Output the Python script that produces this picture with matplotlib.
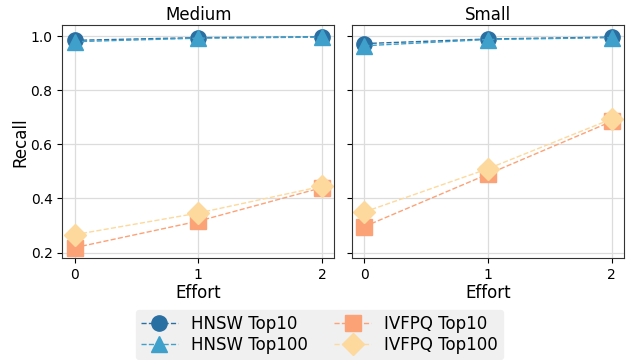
import matplotlib
matplotlib.use("Agg")
import matplotlib.pyplot as plt

efforts = [0, 1, 2]
panels = ["Medium", "Small"]
series_names = ["HNSW Top10", "HNSW Top100", "IVFPQ Top10", "IVFPQ Top100"]

medium_hnsw_top10 = [0.985, 0.995, 0.998]
medium_hnsw_top100 = [0.980, 0.993, 0.997]
medium_ivfpq_top10 = [0.218, 0.316, 0.440]
medium_ivfpq_top100 = [0.266, 0.346, 0.445]

small_hnsw_top10 = [0.973, 0.990, 0.997]
small_hnsw_top100 = [0.965, 0.988, 0.995]
small_ivfpq_top10 = [0.296, 0.490, 0.685]
small_ivfpq_top100 = [0.350, 0.510, 0.694]

data = {
    "Medium": [medium_hnsw_top10, medium_hnsw_top100, medium_ivfpq_top10, medium_ivfpq_top100],
    "Small": [small_hnsw_top10, small_hnsw_top100, small_ivfpq_top10, small_ivfpq_top100],
}

colors = ["#2a6fa1", "#3ea0cb", "#fca277", "#fdd99d"]
markers = ["o", "^", "s", "D"]
sizes = [11, 11, 11, 11]

fig, axes = plt.subplots(1, 2, figsize=(6.29, 3.6), dpi=100, sharey=True)
fig.subplots_adjust(left=0.099, right=0.992, top=0.93, bottom=0.282, wspace=0.065)

for ax, name in zip(axes, panels):
    for vals, lab, c, m, s in zip(data[name], series_names, colors, markers, sizes):
        ax.plot(efforts, vals, linestyle="--", linewidth=1, color=c, marker=m,
                markersize=s, label=lab)
    ax.set_title(name, fontsize=12, pad=4)
    ax.set_xlabel("Effort", fontsize=12, labelpad=1)
    ax.set_xticks(efforts)
    ax.set_xlim(-0.1, 2.1)
    ax.set_ylim(0.178, 1.041)
    ax.set_yticks([0.2, 0.4, 0.6, 0.8, 1.0])
    ax.grid(True, color="#dcdcdc", linewidth=0.9)
    ax.tick_params(labelsize=10)
    for sp in ax.spines.values():
        sp.set_color("#333333")

axes[0].set_ylabel("Recall", fontsize=12, labelpad=1)

handles, labels = axes[0].get_legend_handles_labels()
leg = fig.legend(handles, labels, loc="lower center", ncol=2, fontsize=12,
                 bbox_to_anchor=(0.508, -0.02), frameon=True, fancybox=True,
                 facecolor="#f0f0f0", edgecolor="#f0f0f0", columnspacing=1.6,
                 handlelength=2.2, handletextpad=0.8, borderpad=0.3, labelspacing=0.2)
leg.get_frame().set_alpha(1)

fig.savefig("out.png", dpi=100)
